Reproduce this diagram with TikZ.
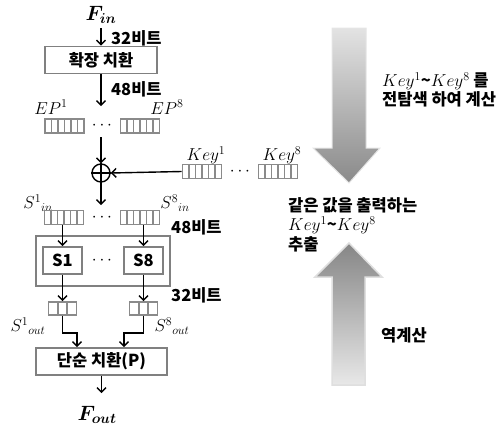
\documentclass[tikz,border=0pt]{standalone}
\usepackage{fontspec}
\usepackage{bm}
\usetikzlibrary{arrows.meta,calc}
\newfontfamily\kr{Noto Sans CJK KR}
\definecolor{rg}{HTML}{8A8A8A}
\definecolor{bx}{HTML}{808080}
\begin{document}
\begin{tikzpicture}[x=1pt,y=-1pt,
  arr/.style={draw=black,line width=1.4,-{Straight Barb[length=4.5pt,width=9pt,line width=1.4pt]}},
  ln/.style={draw=black,line width=1.4},
  kt/.style={font=\kr\bfseries\fontsize{16.5}{18}\selectfont,inner sep=0},
  mt/.style={font=\fontsize{17.5}{19}\selectfont,inner sep=0},
  pbox/.style={draw=bx,line width=1.8,fill=white,inner sep=0,font=\kr\bfseries\fontsize{16.5}{18}\selectfont},
  reg6/.style={draw=rg,line width=1.8,minimum width=39pt,minimum height=14pt,inner sep=0,
    path picture={\foreach \i in {1,...,5}{\draw[rg,line width=1.8]
      ($(path picture bounding box.south west)!\i/6!(path picture bounding box.south east)$) --
      ($(path picture bounding box.north west)!\i/6!(path picture bounding box.north east)$);}}},
  reg3/.style={draw=rg,line width=1.8,minimum width=28pt,minimum height=13pt,inner sep=0,
    path picture={\foreach \i in {1,2}{\draw[rg,line width=1.8]
      ($(path picture bounding box.south west)!\i/3!(path picture bounding box.south east)$) --
      ($(path picture bounding box.north west)!\i/3!(path picture bounding box.north east)$);}}},
  dots/.style={inner sep=0,font=\fontsize{16}{18}\selectfont}
]
\useasboundingbox (0,0) rectangle (504,429);
% ---- left column ----
\node[mt,font=\fontsize{20}{22}\selectfont] (fin) at (101,15) {$\bm{F_{in}}$};
\coordinate (fin-s) at (101,28);
\node[pbox,minimum width=112pt,minimum height=27pt] (ep) at (101,60) {확장 치환};
\draw[arr] (fin-s) -- (ep.north);
\node[kt,anchor=west] (b32a) at (111,38) {32비트};
\coordinate (ep-end) at (101,106);
\draw[arr] (ep.south) -- (ep-end);
\node[kt,anchor=west] (b48a) at (111,89) {48비트};
\node[mt] (ep1l) at (51,107) {$EP^{1}$};
\node[mt] (ep8l) at (167,107) {$EP^{8}$};
\node[reg6] (ep1) at (64.5,126) {};
\node[reg6] (ep8) at (140,126) {};
\node[dots] (epd) at (102,126) {$\cdots$};
\node[circle,draw=black,line width=1.4,minimum size=18pt,inner sep=0] (xor) at (101,173) {};
\draw[ln] (xor.north) -- (xor.south) (xor.west) -- (xor.east);
\coordinate (ep-st) at (101,137);
\draw[arr] (ep-st) -- (xor.north);
\node[reg6] (k1) at (202,171.5) {};
\node[reg6] (k8) at (278,171.5) {};
\node[dots] (kd) at (240,171.5) {$\cdots$};
\node[mt] (k1l) at (206,155) {$Key^{1}$};
\node[mt] (k8l) at (282,155) {$Key^{8}$};
\draw[arr] (k1.west) -- (xor.east);
\coordinate (xor-end) at (101,205);
\draw[arr] (xor.south) -- (xor-end);
\node[mt] (s1l) at (38,203) {$S^{1}{}_{in}$};
\node[mt] (s8l) at (175,203) {$S^{8}{}_{in}$};
\node[reg6] (s1) at (64,217.5) {};
\node[reg6] (s8) at (140,217.5) {};
\node[dots] (sd) at (102,217.5) {$\cdots$};
\node[kt,anchor=west] (b48b) at (171,227) {48비트};
\node[pbox,minimum width=134pt,minimum height=50pt,fill=none] (sb) at (103,261) {};
\node[pbox,minimum width=39pt,minimum height=27pt] (S1) at (62.5,260.5) {S1};
\node[pbox,minimum width=39pt,minimum height=27pt] (S8) at (143.5,260.5) {S8};
\node[dots] (Sd) at (102,260.5) {$\cdots$};
\draw[arr] (s1.south -| S1.north) -- (S1.north);
\draw[arr] (s8.south -| S8.north) -- (S8.north);
\node[reg3] (o1) at (62.5,308.5) {};
\node[reg3] (o8) at (143.5,308.5) {};
\draw[arr] (S1.south) -- (o1.north);
\draw[arr] (S8.south) -- (o8.north);
\node[kt,anchor=west] (b32b) at (171,295) {32비트};
\node[mt] (o1l) at (28,326) {$S^{1}{}_{out}$};
\node[mt] (o8l) at (172,326) {$S^{8}{}_{out}$};
\node[pbox,minimum width=131pt,minimum height=27pt] (pb) at (101.5,361.5) {단순 치환(P)};
\draw[arr] (o1.south) -- ++(0,17) -| ([xshift=-24.5pt]pb.north);
\draw[arr] (o8.south) -- ++(0,17) -| ([xshift=22.5pt]pb.north);
\coordinate (pb-end) at (101.5,393);
\draw[arr] (pb.south) -- (pb-end);
\node[mt,font=\fontsize{20}{22}\selectfont] (fout) at (97,415) {$\bm{F_{out}}$};
% ---- right side ----
\shadedraw[draw=gray!20,line width=1,top color=gray!22,bottom color=gray!108!black!100]
  (332,28) -- (366,28) -- (366,148) -- (380,148) -- (349,183) -- (313,148) -- (332,148) -- cycle;
\shadedraw[draw=gray!25,line width=1.5,top color=gray!95,bottom color=gray!18]
  (349,243) -- (382,277) -- (365,277) -- (365,385) -- (332,385) -- (332,277) -- (315,277) -- cycle;
\node[kt,anchor=west] (t1) at (382,81) {$Key^{1}$\textasciitilde$Key^{8}$ 를};
\node[kt,anchor=west] (t2) at (382,99) {전탐색 하여 계산};
\node[kt,anchor=west] (t3) at (288,205) {같은 값을 출력하는};
\node[kt,anchor=west] (t4) at (288,225) {$Key^{1}$\textasciitilde$Key^{8}$};
\node[kt,anchor=west] (t5) at (288,244) {추출};
\node[kt,anchor=west] (t6) at (381,335) {역계산};
\end{tikzpicture}
\end{document}
